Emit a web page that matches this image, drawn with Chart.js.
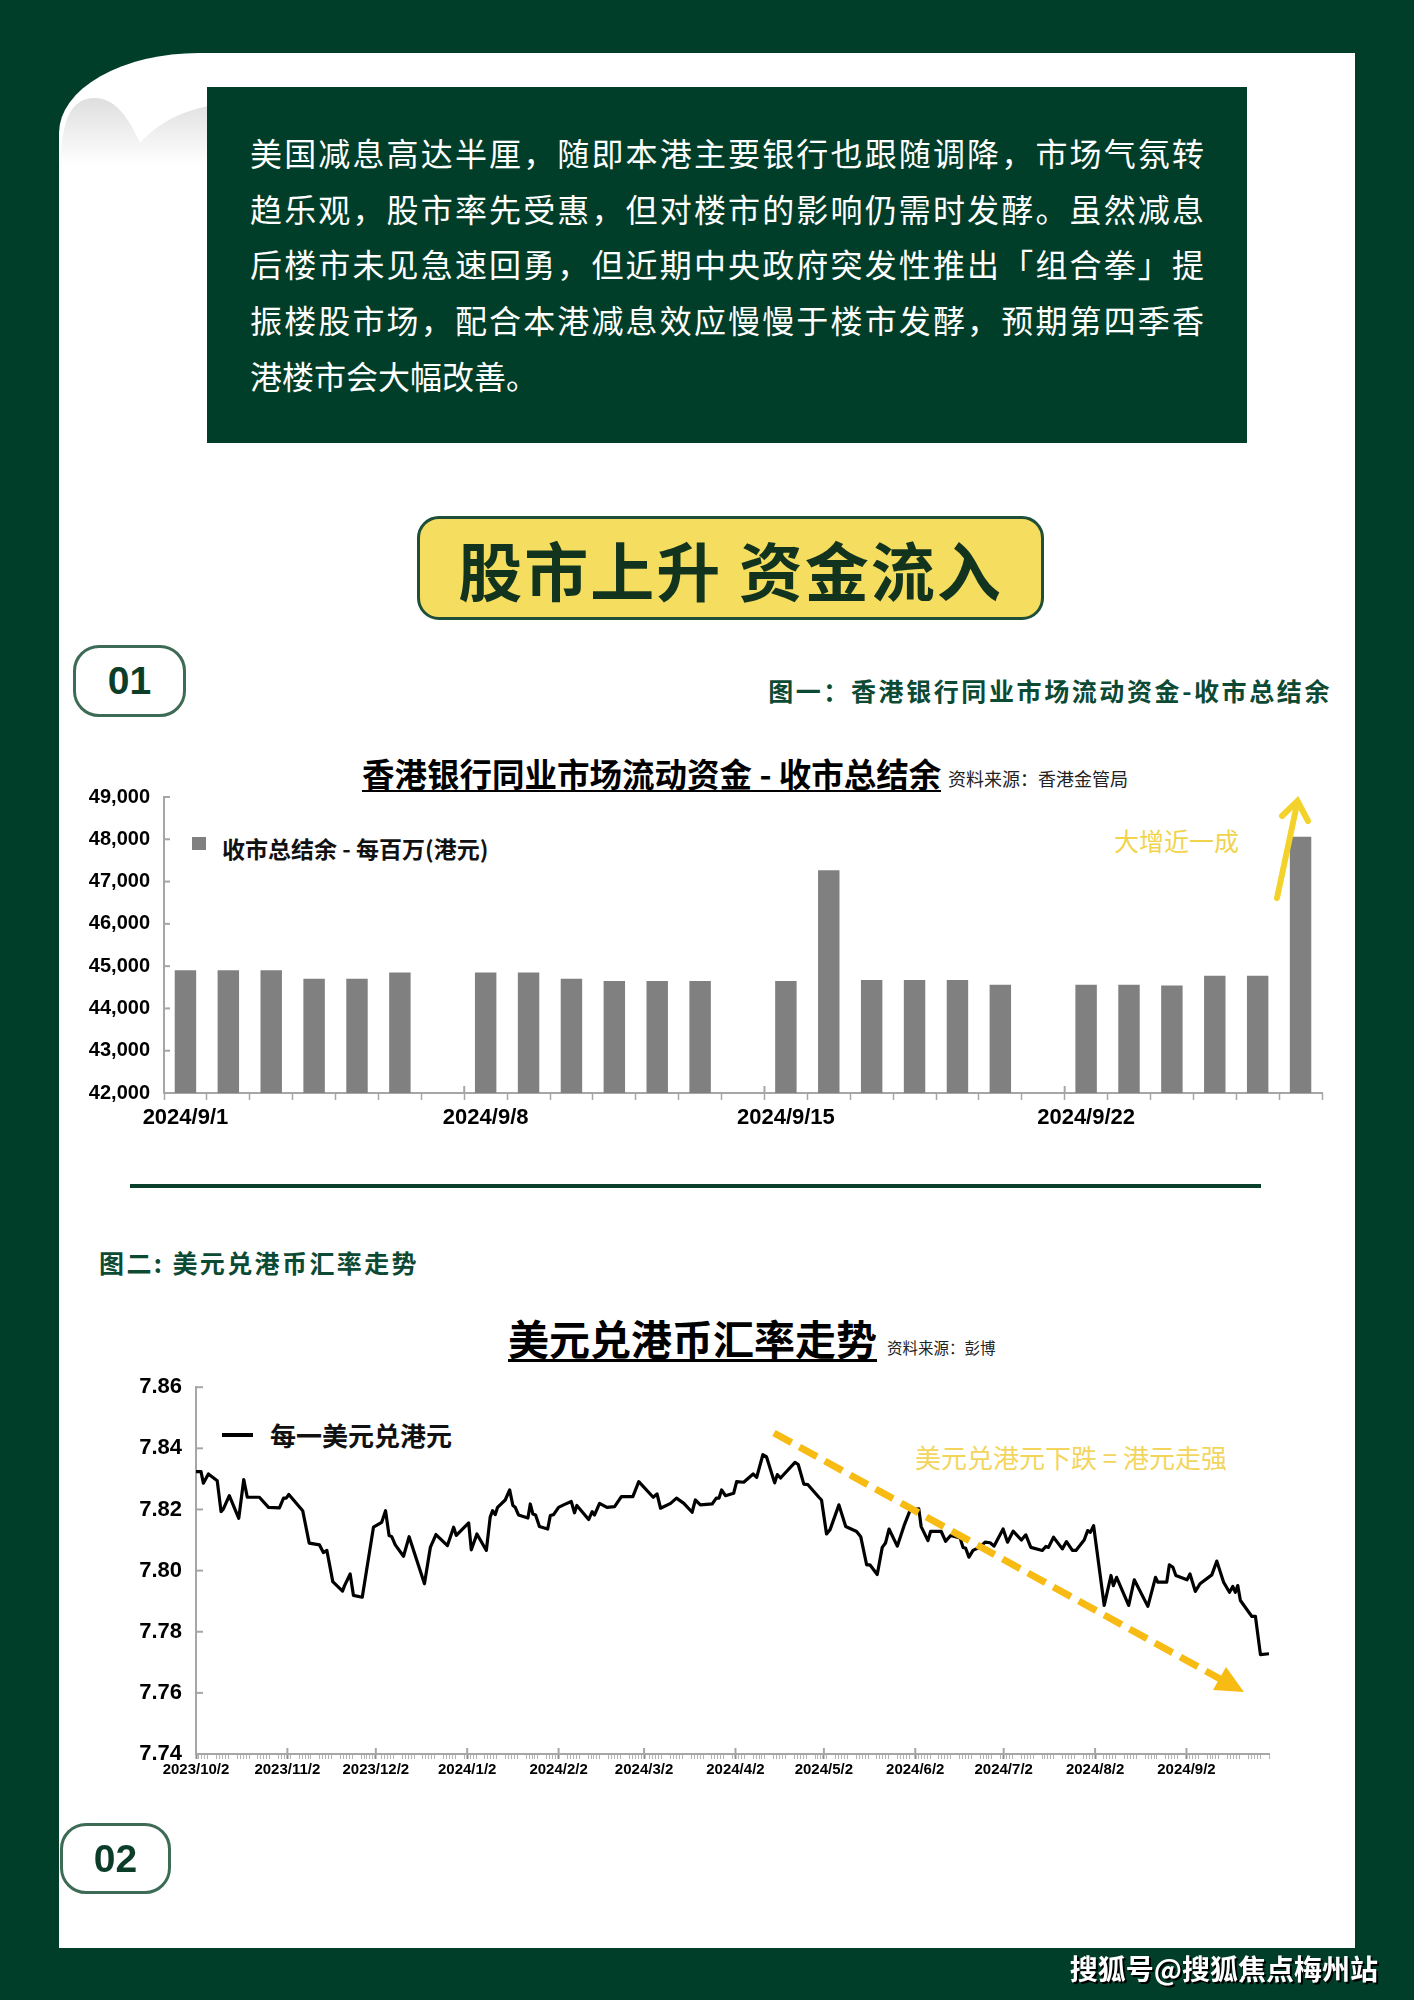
<!DOCTYPE html>
<html lang="zh-CN">
<head>
<meta charset="utf-8">
<title>股市上升 资金流入</title>
<script src="https://cdn.jsdelivr.net/npm/chart.js@4.4.1/dist/chart.umd.min.js"></script>
<style>
  html, body { margin: 0; padding: 0; }
  body {
    width: 1414px; height: 2000px; position: relative; overflow: hidden;
    background: #013e2a;
    font-family: "Noto Sans CJK SC", "Noto Sans", sans-serif;
  }
  .abs { position: absolute; white-space: nowrap; }
  .paper {
    position: absolute; left: 59px; top: 53px; width: 1296px; height: 1895px;
    background: #fff; border-top-left-radius: 140px 80px;
  }
  .intro {
    position: absolute; left: 207px; top: 87px; width: 1040px; height: 356px;
    background: #013e2a;
  }
  .intro .txt { position: absolute; left: 43px; top: 38px; width: 954px; }
  .intro .ln {
    height: 55.7px; line-height: 55.7px; font-size: 32px; color: #fff;
    text-align: justify; text-align-last: justify; white-space: nowrap;
  }
  .intro .ln.last { text-align-last: left; }
  .pill {
    position: absolute; left: 417px; top: 516px; width: 621px; height: 98px;
    background: #f5dd5f; border: 3px solid #1f4f38; border-radius: 22px;
    text-align: center; line-height: 98px; font-size: 64px; font-weight: 700;
    color: #12341f; letter-spacing: 2px;
  }
  .badge {
    position: absolute; border: 3px solid #3d6b56; border-radius: 26px;
    text-align: center; font-family: "Liberation Sans", Arial, sans-serif;
    font-weight: 700; font-size: 39px; color: #0b3d29;
  }
  .heading { color: #0d4a34; font-weight: 700; }
  canvas { position: absolute; }
</style>
</head>
<body>
<div class="paper"></div>
<svg class="abs" style="left:0;top:0" width="1414" height="200">
  <defs>
    <linearGradient id="curl" x1="0" y1="0" x2="0" y2="1">
      <stop offset="0" stop-color="#dedede"/>
      <stop offset="1" stop-color="#ffffff"/>
    </linearGradient>
  </defs>
  <path d="M61 160 C62 118 72 98 95 98 C116 98 130 120 140 143 C160 121 185 110 210 106 L210 165 L61 165 Z" fill="url(#curl)"/>
</svg>

<div class="intro">
  <div class="txt">
    <div class="ln">美国减息高达半厘，随即本港主要银行也跟随调降，市场气氛转</div>
    <div class="ln">趋乐观，股市率先受惠，但对楼市的影响仍需时发酵。虽然减息</div>
    <div class="ln">后楼市未见急速回勇，但近期中央政府突发性推出「组合拳」提</div>
    <div class="ln">振楼股市场，配合本港减息效应慢慢于楼市发酵，预期第四季香</div>
    <div class="ln last">港楼市会大幅改善。</div>
  </div>
</div>

<div class="pill">股市上升 资金流入</div>

<div class="badge" style="left:73px;top:645px;width:107px;height:66px;line-height:66px;">01</div>
<div class="abs heading" style="right:82px;top:674px;font-size:25px;line-height:32px;letter-spacing:2.6px;">图一：香港银行同业市场流动资金-收市总结余</div>

<!-- chart 1 texts -->
<div class="abs" style="left:362px;top:756px;font-size:32.5px;line-height:34px;font-weight:700;color:#000;border-bottom:2px solid #000;">香港银行同业市场流动资金 - 收市总结余</div>
<div class="abs" style="left:948px;top:766px;font-size:18px;line-height:24px;color:#222;">资料来源：香港金管局</div>
<div class="abs" style="left:192px;top:837px;width:14px;height:13px;background:#808080;"></div>
<div class="abs" style="left:222px;top:833px;font-size:23px;line-height:30px;font-weight:700;color:#111;">收市总结余 - 每百万(港元)</div>
<div class="abs" style="left:1114px;top:823px;font-size:25px;line-height:34px;color:#f1d34c;">大增近一成</div>
<canvas id="barChart" width="1270" height="369" style="left:80px;top:771px;"></canvas>

<div class="abs" style="left:130px;top:1184px;width:1131px;height:4px;background:#0a3f2c;"></div>
<div class="abs heading" style="left:99px;top:1245px;font-size:25px;line-height:34px;letter-spacing:2.4px;">图二: 美元兑港币汇率走势</div>

<!-- chart 2 texts -->
<div class="abs" style="left:508px;top:1315px;font-size:41px;line-height:44px;font-weight:700;color:#000;border-bottom:3px solid #000;">美元兑港币汇率走势</div>
<div class="abs" style="left:887px;top:1337px;font-size:15.5px;line-height:20px;color:#222;">资料来源：彭博</div>
<div class="abs" style="left:222px;top:1433px;width:31px;height:4px;background:#000;"></div>
<div class="abs" style="left:270px;top:1418px;font-size:26px;line-height:34px;font-weight:700;color:#111;">每一美元兑港元</div>
<div class="abs" style="left:915px;top:1440px;font-size:26px;line-height:34px;color:#f3d55e;">美元兑港元下跌 = 港元走强</div>
<canvas id="rateChart" width="1200" height="430" style="left:100px;top:1360px;"></canvas>

<svg class="abs" style="left:0;top:0;pointer-events:none" width="1414" height="2000">
  <!-- bar chart: 大增近一成 arrow -->
  <line x1="1277" y1="898" x2="1297" y2="804" stroke="#f3d22c" stroke-width="6" stroke-linecap="round"/>
  <polyline points="1282,816 1297.5,801 1308,821" fill="none" stroke="#f3d22c" stroke-width="6" stroke-linecap="round"/>
  <!-- line chart: dashed trend arrow -->
  <line x1="774" y1="1433" x2="1222" y2="1680" stroke="#f7bb14" stroke-width="7" stroke-dasharray="20 9"/>
  <polygon points="1244,1692 1213,1690 1226,1667" fill="#f7bb14"/>
</svg>

<div class="badge" style="left:60px;top:1823px;width:105px;height:65px;line-height:65px;">02</div>
<div class="abs" style="right:36px;top:1950px;font-size:28px;line-height:36px;font-weight:700;color:#fff;text-shadow:2px 2px 0 #000;">搜狐号@搜狐焦点梅州站</div>

<script>
// 图一: 香港银行同业市场流动资金 - 收市总结余 (每百万港元)
const barDates = ['2024/9/1', '2024/9/2', '2024/9/3', '2024/9/4', '2024/9/5', '2024/9/6', '2024/9/7',
    '2024/9/8', '2024/9/9', '2024/9/10', '2024/9/11', '2024/9/12', '2024/9/13', '2024/9/14',
    '2024/9/15', '2024/9/16', '2024/9/17', '2024/9/18', '2024/9/19', '2024/9/20', '2024/9/21',
    '2024/9/22', '2024/9/23', '2024/9/24', '2024/9/25', '2024/9/26', '2024/9/27'];
const barBalance = [44900, 44900, 44900, 44700, 44700, 44850, null,
    44850, 44850, 44700, 44650, 44650, 44650, null,
    44650, 47270, 44670, 44670, 44670, 44560, null,
    44560, 44560, 44540, 44770, 44770, 48060];
const barLabelIdx = [0, 7, 14, 21];
const balanceTicks = [42000, 43000, 44000, 45000, 46000, 47000, 48000, 49000];

// 图二: 每一美元兑港元, x = days since 2023/10/2
const rateDays = [0, 1.7, 2.5, 4.2, 7.2, 8.5, 9.3, 11.3, 14.5, 16.2, 17.4, 21.5, 24.6, 28.3, 29.7, 30.6,
    31.5, 36.2, 38.4, 41.9, 43.2, 44.4, 46.4, 49.7, 50.4, 52.3, 53.4, 56.4, 60.2, 63.0, 64.3, 65.5,
    66.4, 67.6, 70.4, 72.3, 77.5, 79.5, 81.4, 85.3, 87.4, 88.3,
    92.5, 93.4, 95.3, 98.5, 99.8, 100.6, 101.5, 102.3, 104.9, 106.4, 107.5, 108.3, 109.4, 112.6,
    113.4, 114.3, 115.2, 116.5, 119.3, 120.2, 121.3, 123.0, 124.7, 127.3, 128.4, 129.2, 133.2, 134.4,
    135.2, 136.9, 139.4, 142.0, 144.3, 148.2, 150.2, 155.1, 156.4, 157.6, 161.0, 163.0, 165.5, 168.3,
    169.4, 171.1, 175.1, 176.5, 177.4, 178.3, 179.6, 182.4, 183.4, 185.8, 189.0, 190.2, 192.3, 193.5,
    196.3, 197.2, 198.3, 203.2, 204.3, 206.2, 207.6, 211.3, 212.2, 213.9, 215.1, 218.1, 220.4, 224.1,
    225.5, 227.5, 228.6, 231.1, 232.8, 233.9, 235.1, 237.9, 240.2, 242.2, 243.3, 245.2, 246.0, 248.3,
    249.2, 252.8, 254.3, 256.0, 259.2, 260.2, 261.1, 262.2, 263.6, 265.9, 267.7, 269.4, 270.7, 273.8,
    275.3, 277.2, 280.0, 281.5, 283.2, 287.1, 288.3, 289.2, 290.9, 293.9, 295.3, 297.3, 298.5, 301.3,
    302.5, 303.4, 304.5, 308.1, 310.4, 311.2, 312.3, 316.4, 318.3, 322.9, 325.5, 326.3, 329.3, 330.2,
    331.4, 332.4, 336.2, 337.2, 339.0, 340.6, 344.6, 346.3, 348.6, 350.6, 351.7, 352.6, 353.4, 354.3,
    358.2, 359.4, 361.1, 364];
const rateValues = [7.8324, 7.8324, 7.8286, 7.8316, 7.8294, 7.8193, 7.8202, 7.8245, 7.8171, 7.8298,
    7.8240, 7.8240, 7.8207, 7.8205, 7.8237, 7.8237, 7.8249, 7.8196, 7.8090, 7.8084,
    7.8059, 7.8066, 7.7964, 7.7933, 7.7951, 7.7989, 7.7919, 7.7913, 7.8142, 7.8158,
    7.8196, 7.8115, 7.8111, 7.8084, 7.8047, 7.8111, 7.7957, 7.8076, 7.8118, 7.8082,
    7.8142, 7.8115,
    7.8156, 7.8068, 7.8120, 7.8066, 7.8175, 7.8196, 7.8183, 7.8207, 7.8231, 7.8264,
    7.8213, 7.8207, 7.8182, 7.8172, 7.8218, 7.8185, 7.8182, 7.8144, 7.8136, 7.8180,
    7.8183, 7.8207, 7.8215, 7.8226, 7.8189, 7.8213, 7.8167, 7.8193, 7.8182, 7.8220,
    7.8207, 7.8209, 7.8242, 7.8242, 7.8291, 7.8240, 7.8251, 7.8204, 7.8220, 7.8237,
    7.8220, 7.8191, 7.8231, 7.8215, 7.8218, 7.8237, 7.8237, 7.8264, 7.8245, 7.8253,
    7.8291, 7.8289, 7.8316, 7.8305, 7.8379, 7.8373, 7.8287, 7.8314, 7.8303, 7.8354,
    7.8347, 7.8283, 7.8281, 7.8240, 7.8231, 7.8120, 7.8134, 7.8215, 7.8144, 7.8128,
    7.8111, 7.8019, 7.8019, 7.7987, 7.8076, 7.8090, 7.8136, 7.8080, 7.8147, 7.8196,
    7.8200, 7.8202, 7.8144, 7.8098, 7.8128, 7.8128, 7.8096, 7.8115, 7.8107, 7.8076,
    7.8073, 7.8044, 7.8066, 7.8077, 7.8093, 7.8091, 7.8080, 7.8136, 7.8093, 7.8129,
    7.8100, 7.8117, 7.8076, 7.8066, 7.8079, 7.8076, 7.8109, 7.8071, 7.8095, 7.8066,
    7.8066, 7.8100, 7.8131, 7.8125, 7.8147, 7.7886, 7.7984, 7.7951, 7.7978, 7.7886,
    7.7970, 7.7883, 7.7978, 7.7962, 7.7962, 7.8019, 7.8011, 7.7984, 7.7970, 7.7989,
    7.7932, 7.7957, 7.7986, 7.8031, 7.7962, 7.7929, 7.7948, 7.7929, 7.7951, 7.7902,
    7.7850, 7.7850, 7.7725, 7.7728];
const rateTickDays = [0, 31, 61, 92, 123, 152, 183, 213, 244, 274, 305, 336];
const rateTickLabels = ['2023/10/2', '2023/11/2', '2023/12/2', '2024/1/2', '2024/2/2', '2024/3/2',
    '2024/4/2', '2024/5/2', '2024/6/2', '2024/7/2', '2024/8/2', '2024/9/2'];
const rateYTicks = [7.74, 7.76, 7.78, 7.80, 7.82, 7.84, 7.86];

Chart.defaults.font.family = '"Liberation Sans", Arial, sans-serif';
Chart.defaults.color = '#000';

const AXIS = '#a6a6a6';

// Excel style: y ticks point into the plot, labelled x ticks poke above the axis
const innerTicks = {
    id: 'innerTicks',
    afterDraw(chart, args, opts) {
        const { ctx, scales: { x, y } } = chart;
        ctx.save();
        ctx.strokeStyle = AXIS;
        ctx.lineWidth = 2;
        y.ticks.forEach((t, i) => {
            const py = y.getPixelForTick(i);
            ctx.beginPath();
            ctx.moveTo(y.right, py);
            ctx.lineTo(y.right + opts.len, py);
            ctx.stroke();
        });
        (opts.majors || []).forEach(v => {
            let px = x.getPixelForValue(v);
            if (opts.boundary) px = (x.getPixelForValue(v - 1) + px) / 2;
            ctx.beginPath();
            ctx.moveTo(px, x.top);
            ctx.lineTo(px, x.top - opts.up);
            ctx.stroke();
        });
        ctx.restore();
    }
};

function setupBarChart() {
    return new Chart(document.getElementById('barChart'), {
        type: 'bar',
        data: {
            labels: barDates,
            datasets: [{
                label: '收市总结余 - 每百万(港元)',
                data: barBalance,
                backgroundColor: '#808080',
                categoryPercentage: 1,
                barPercentage: 0.5
            }]
        },
        options: {
            responsive: false,
            animation: false,
            devicePixelRatio: 1,
            layout: { padding: { top: 0, right: 28, left: 0, bottom: 0 } },
            plugins: {
                legend: { display: false },
                tooltip: { enabled: false },
                innerTicks: { len: 6, majors: barLabelIdx.slice(1), boundary: true, up: 7 }
            },
            scales: {
                x: {
                    afterFit: s => { s.height = 47; },
                    ticks: {
                        autoSkip: false, maxRotation: 0, padding: 5,
                        font: { size: 22, weight: 'bold' },
                        callback: (v, i) => barLabelIdx.includes(i) ? barDates[i] : ''
                    },
                    grid: { offset: true, drawOnChartArea: false, tickLength: 7, tickColor: AXIS, tickWidth: 1.5 },
                    border: { color: AXIS, width: 2 }
                },
                y: {
                    min: 42000, max: 49000,
                    afterBuildTicks: s => { s.ticks = balanceTicks.map(v => ({ value: v })); },
                    afterFit: s => { s.width = 84; },
                    ticks: { padding: 14, font: { size: 20, weight: 'bold' }, callback: v => v.toLocaleString('en-US') },
                    grid: { display: false, drawTicks: false },
                    border: { color: AXIS, width: 2 }
                }
            }
        },
        plugins: [innerTicks]
    });
}

function setupRateChart() {
    // one small mark per weekday, plus the labelled month ticks
    const tickDays = [];
    for (let d = 0; d <= 364; d++) {
        if (d % 7 < 5 || rateTickDays.includes(d)) tickDays.push(d);
    }
    const points = rateDays.map((d, i) => ({ x: d, y: rateValues[i] }));

    return new Chart(document.getElementById('rateChart'), {
        type: 'line',
        data: {
            datasets: [{
                label: '每一美元兑港元',
                data: points,
                borderColor: '#000',
                borderWidth: 3.2,
                pointRadius: 0,
                tension: 0,
                borderJoinStyle: 'round'
            }]
        },
        options: {
            responsive: false,
            animation: false,
            devicePixelRatio: 1,
            layout: { padding: { top: 0, right: 31, left: 0, bottom: 0 } },
            plugins: {
                legend: { display: false },
                tooltip: { enabled: false },
                innerTicks: { len: 7, majors: rateTickDays.slice(1), boundary: false, up: 6 }
            },
            scales: {
                x: {
                    type: 'linear', min: 0, max: 364,
                    afterBuildTicks: s => { s.ticks = tickDays.map(v => ({ value: v })); },
                    afterFit: s => { s.height = 36; },
                    ticks: {
                        autoSkip: false, maxRotation: 0, padding: 2,
                        font: { size: 15, weight: 'bold' },
                        callback: v => {
                            const k = rateTickDays.indexOf(v);
                            return k < 0 ? '' : rateTickLabels[k];
                        }
                    },
                    grid: {
                        drawOnChartArea: false, tickLength: 5,
                        tickColor: c => rateTickDays.includes(c.tick && c.tick.value) ? '#8c8c8c' : '#b3b3b3',
                        tickWidth: c => rateTickDays.includes(c.tick && c.tick.value) ? 2 : 1
                    },
                    border: { color: AXIS, width: 2 }
                },
                y: {
                    min: 7.74, max: 7.86,
                    afterBuildTicks: s => { s.ticks = rateYTicks.map(v => ({ value: v })); },
                    afterFit: s => { s.width = 96; },
                    ticks: { padding: 14, font: { size: 22, weight: 'bold' }, callback: v => v.toFixed(2) },
                    grid: { display: false, drawTicks: false },
                    border: { color: AXIS, width: 2 }
                }
            }
        },
        plugins: [innerTicks]
    });
}

setupBarChart();
setupRateChart();
</script>
</body>
</html>
